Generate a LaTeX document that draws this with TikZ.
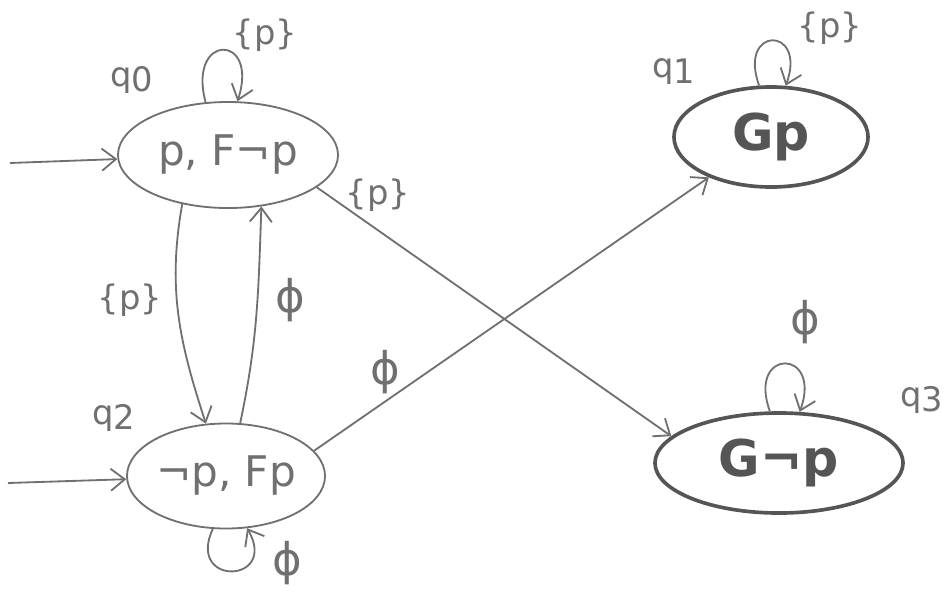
\documentclass[tikz,border=0pt]{standalone}
\usepackage{fontspec}
\setmainfont{DejaVu Sans}
\usetikzlibrary{shapes.geometric,arrows.meta}
\definecolor{penc}{HTML}{707070}
\definecolor{darkc}{HTML}{555555}
\tikzset{
  pen/.style={draw=penc, line width=1.3pt},
  st/.style={ellipse, pen, inner sep=0pt, text=penc, font=\fontsize{30}{32}\selectfont},
  acc/.style={st, draw=darkc, line width=2.6pt, text=darkc, font=\fontsize{36}{40}\selectfont\bfseries},
  lab/.style={text=penc, font=\fontsize{24}{26}\selectfont},
  phil/.style={text=penc, font=\fontsize{32}{34}\selectfont},
  arr/.style={pen, -{Straight Barb[length=3.5mm,width=5.5mm]}},
}
\begin{document}
\begin{tikzpicture}[x=0.025cm,y=-0.025cm]
\useasboundingbox (0,0) rectangle (948,600);
\node[st, minimum width=5.5cm, minimum height=2.65cm] (q0) at (228,155) {p, F¬p};
\node[st, minimum width=4.95cm, minimum height=2.625cm] (q2) at (226,476) {¬p, Fp};
\node[acc, minimum width=4.85cm, minimum height=2.5cm] (q1) at (771,137) {Gp};
\node[acc, minimum width=6.2cm, minimum height=2.5cm] (q3) at (779,463) {G¬p};
% state names
\node[lab] (n0) at (132,80) {q\raisebox{-4pt}{0}};
\node[lab] (n2) at (114,418) {q\raisebox{-4pt}{2}};
\node[lab] (n1) at (674,72) {q\raisebox{-4pt}{1}};
\node[lab] (n3) at (922,400) {q\raisebox{-4pt}{3}};
% initial arrows
\coordinate (i0) at (10,163);
\coordinate (i2) at (8,483);
\draw[arr] (i0) -- (q0);
\draw[arr] (i2) -- (q2);
% loops
\draw[arr] (q0.113) .. controls +(105:1.8cm) and +(72:1.8cm) .. (q0.80);
\draw[arr] (q1.103) .. controls +(110:1.6cm) and +(70:1.6cm) .. (q1.74);
\draw[arr] (q3.100) .. controls +(110:1.7cm) and +(70:1.7cm) .. (q3.68);
\draw[arr] (q2.-104) .. controls +(-115:1.6cm) and +(-60:1.6cm) .. (q2.-68);
% edges
\draw[arr] (q0.-133) to[out=-100,in=108] (q2.111);
\draw[arr] (q2.75) to[out=78,in=-92] (q0.-57);
\draw[arr] (q0.-20) -- (q3.166);
\draw[arr] (q2.16) -- (q1.213);
% edge labels
\node[lab] (e0) at (265,35) {\{p\}};
\node[lab] (e1) at (830,28) {\{p\}};
\node[phil] (e3) at (805,322) {ϕ};
\node[phil] (e2) at (287,563) {ϕ};
\node[lab] (e02) at (130,300) {\{p\}};
\node[phil] (e20) at (290,300) {ϕ};
\node[lab] (e03) at (378,195) {\{p\}};
\node[phil] (e21) at (385,372) {ϕ};
\end{tikzpicture}
\end{document}
